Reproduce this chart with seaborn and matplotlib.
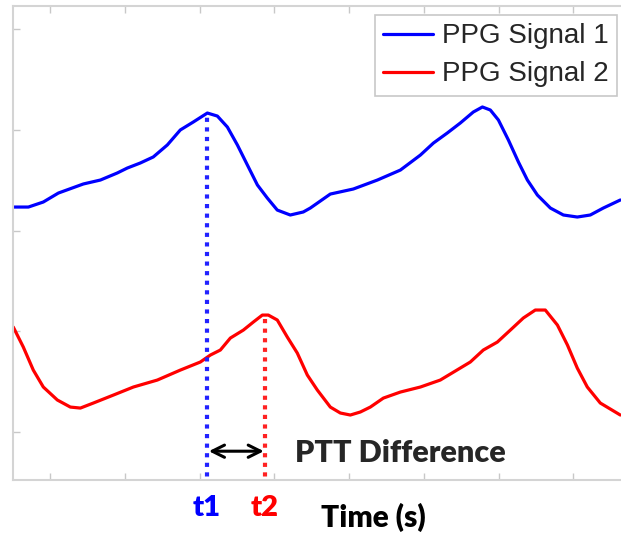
import matplotlib
matplotlib.use("Agg")
import matplotlib.pyplot as plt
import seaborn as sns
import pandas as pd

# PPG signal 1 (blue) - time (s) and amplitude (a.u.)
t_sig1 = [0.252, 0.353, 0.453, 0.554, 0.721, 0.835, 0.948, 1.015, 1.102, 1.189,
          1.283, 1.370, 1.457, 1.551, 1.618, 1.685, 1.752, 1.819, 1.886, 1.952,
          2.019, 2.106, 2.193, 2.240, 2.374, 2.528, 2.689, 2.843, 2.977, 3.064,
          3.157, 3.244, 3.331, 3.392, 3.445, 3.499, 3.566, 3.633, 3.693, 3.760,
          3.847, 3.934, 4.027, 4.114, 4.201, 4.315]
a_sig1 = [2.233, 2.233, 2.283, 2.372, 2.462, 2.501, 2.571, 2.620, 2.670, 2.730,
          2.849, 2.998, 3.077, 3.166, 3.136, 3.027, 2.849, 2.650, 2.452, 2.323,
          2.203, 2.154, 2.184, 2.223, 2.362, 2.412, 2.501, 2.600, 2.749, 2.868,
          2.968, 3.067, 3.176, 3.226, 3.196, 3.097, 2.898, 2.680, 2.501, 2.352,
          2.223, 2.154, 2.134, 2.154, 2.223, 2.303]

# PPG signal 2 (red)
t_sig2 = [0.252, 0.319, 0.386, 0.453, 0.547, 0.634, 0.701, 0.788, 0.922, 1.056,
          1.216, 1.370, 1.504, 1.571, 1.638, 1.705, 1.792, 1.859, 1.919, 1.959,
          2.019, 2.086, 2.153, 2.220, 2.287, 2.374, 2.441, 2.508, 2.575, 2.642,
          2.729, 2.843, 2.977, 3.110, 3.311, 3.398, 3.492, 3.579, 3.666, 3.746,
          3.813, 3.894, 3.961, 4.027, 4.094, 4.181, 4.315]
a_sig2 = [1.042, 0.844, 0.615, 0.447, 0.318, 0.248, 0.238, 0.288, 0.367, 0.447,
          0.516, 0.615, 0.695, 0.764, 0.814, 0.933, 1.012, 1.092, 1.161, 1.161,
          1.112, 0.943, 0.784, 0.566, 0.417, 0.248, 0.189, 0.169, 0.199, 0.248,
          0.337, 0.397, 0.447, 0.516, 0.695, 0.814, 0.893, 1.012, 1.132, 1.211,
          1.211, 1.062, 0.864, 0.635, 0.447, 0.288, 0.169]

labels = ["PPG Signal 1", "PPG Signal 2"]
colors = ["#0000ff", "#ff0000"]

t1, t1_amp = 1.551, 3.166
t2, t2_amp = 1.939, 1.161
arrow_y = -0.19

x_ticks = [0.5, 1.0, 1.5, 2.0, 2.5, 3.0, 3.5, 4.0]
y_ticks = [0, 1, 2, 3, 4]

df = pd.concat([
    pd.DataFrame({"time": t_sig1, "amp": a_sig1, "signal": labels[0]}),
    pd.DataFrame({"time": t_sig2, "amp": a_sig2, "signal": labels[1]}),
])

sns.set_style("white")
plt.rcParams["font.family"] = ["Liberation Sans", "DejaVu Sans"]
bold_font = ["Lato", "DejaVu Sans"]

fig = plt.figure(figsize=(6.21, 5.33), dpi=100)
ax = fig.add_axes([0.0209, 0.0994, 1.0225, 0.8893])

sns.lineplot(data=df, x="time", y="amp", hue="signal", palette=colors,
             linewidth=2.3, sort=False, ax=ax, legend=False)
for ln in ax.get_lines():
    ln.set_solid_joinstyle("round")
    ln.set_solid_capstyle("round")

ax.set_xlim(0.25, 4.5)
ax.set_ylim(-0.476, 4.228)

# peak markers
ax.vlines(t1, arrow_y - 1, t1_amp, colors="#2222ff", linestyles=(0, (1, 1.3)), lw=3)
ax.vlines(t2, arrow_y - 1, t2_amp, colors="#ff2222", linestyles=(0, (1, 1.3)), lw=3)
ax.annotate("", xy=(t1 + 0.01, arrow_y), xytext=(t2 - 0.01, arrow_y),
            arrowprops=dict(arrowstyle="<->", color="black", lw=2.2, mutation_scale=22,
                            shrinkA=0, shrinkB=0))
ax.text(2.14, arrow_y - 0.02, "PTT Difference", fontsize=22, fontweight="heavy",
        family=bold_font, va="center", ha="left")

ax.set_xticks(x_ticks)
ax.set_yticks(y_ticks)
ax.set_xticklabels([])
ax.set_yticklabels([])
ax.tick_params(direction="in", length=5, width=1, color="#c8c8c8",
               top=True, bottom=True, left=True, right=False)
for side in ["left", "bottom", "top"]:
    ax.spines[side].set_color("#d4d4d4")
    ax.spines[side].set_linewidth(1.5)
ax.spines["right"].set_visible(False)
ax.set_xlabel("")
ax.set_ylabel("")

fig.text(207 / 621, 1 - 508 / 533, "t1", color="#0000ff", fontsize=21,
         fontweight="heavy", family=bold_font, ha="center", va="center")
fig.text(265 / 621, 1 - 508 / 533, "t2", color="#ff0000", fontsize=21,
         fontweight="heavy", family=bold_font, ha="center", va="center")
fig.text(373 / 621, 1 - 517 / 533, "Time (s)", color="black", fontsize=21.5,
         fontweight="heavy", family=bold_font, ha="center", va="center")

handles = [plt.Line2D([], [], color=c, lw=2.3) for c in colors]
leg = fig.legend(handles, labels, loc="upper left",
                 bbox_to_anchor=(375 / 621, 1 - 15 / 533), borderaxespad=0,
                 fontsize=20, frameon=True, fancybox=False, framealpha=1,
                 edgecolor="#c8c8c8", handlelength=1.8, handletextpad=0.3,
                 labelspacing=0.43, borderpad=0.3)
leg.get_frame().set_linewidth(1.2)

fig.savefig("out.png", dpi=100)
